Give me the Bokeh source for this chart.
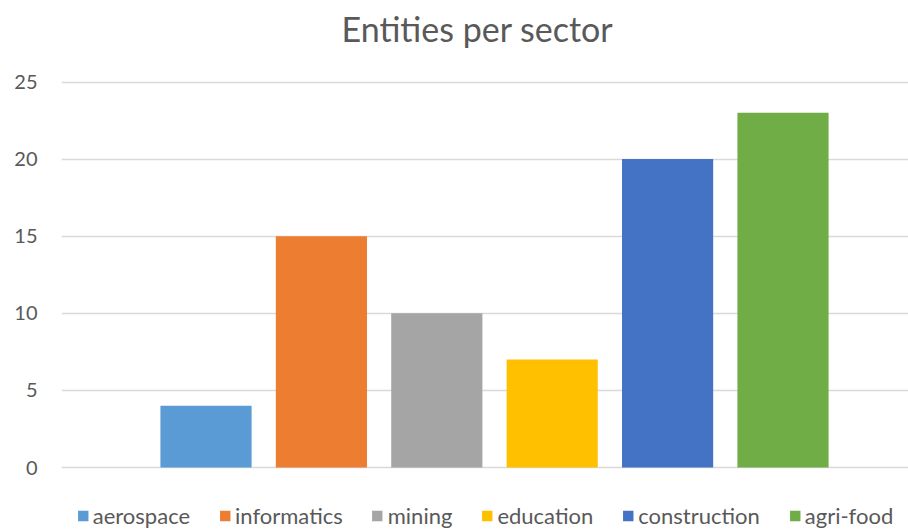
from bokeh.plotting import figure
from bokeh.models import ColumnDataSource, Range1d, Legend, LegendItem, FixedTicker
from bokeh.embed import file_html
from bokeh.resources import INLINE

# ---- data ----
sectors = ["aerospace", "informatics", "mining", "education", "construction", "agri-food"]
entities = [4, 15, 10, 7, 20, 23]
colors = ["#5B9BD5", "#ED7D31", "#A5A5A5", "#FFC000", "#4472C4", "#70AD47"]
y_ticks = [0, 5, 10, 15, 20, 25]
title_text = "Entities per sector"

FONT = "Lato"
TEXT_COLOR = "#595959"

W, H = 908, 529
LEFT = 61                 # frame left (px)
TITLE_PANEL = 53          # measured height of the title panel (px)
PX_PER_UNIT = 15.42       # vertical scale
TOP_TICK_Y = 81.5         # px of the top gridline
y_end = y_ticks[-1] + (TOP_TICK_Y - TITLE_PANEL) / PX_PER_UNIT
y_start = y_end - (H - TITLE_PANEL) / PX_PER_UNIT

CAT_PX = 115.4            # px per category
FIRST_CENTER = 205.5      # px of first bar centre
x_start = (LEFT - FIRST_CENTER) / CAT_PX
x_end = (W - FIRST_CENTER) / CAT_PX

positions = list(range(len(sectors)))
src = ColumnDataSource(dict(x=positions, top=entities, sector=sectors, color=colors))

p = figure(width=W, height=H, output_backend="svg", toolbar_location=None,
           x_range=Range1d(x_start, x_end), y_range=Range1d(y_start, y_end),
           min_border_left=LEFT, min_border_right=0, min_border_top=0, min_border_bottom=0)

p.title.text = title_text
p.title.text_font = FONT
p.title.text_font_size = "34px"
p.title.text_font_style = "normal"
p.title.text_color = TEXT_COLOR
p.title.align = "left"
p.title.offset = 280

p.outline_line_color = None
p.background_fill_color = "white"
p.border_fill_color = "white"

r = p.vbar(x="x", top="top", bottom=0, width=0.79, source=src,
           fill_color="color", line_color=None)

p.xaxis.visible = False
p.xgrid.grid_line_color = None

p.yaxis.ticker = FixedTicker(ticks=y_ticks)
p.ygrid.ticker = FixedTicker(ticks=y_ticks)
p.ygrid.grid_line_color = "#D9D9D9"
p.ygrid.grid_line_width = 1.5
p.yaxis.axis_line_color = None
p.yaxis.major_tick_line_color = None
p.yaxis.minor_tick_line_color = None
p.yaxis.major_tick_in = 0
p.yaxis.major_tick_out = 0
p.yaxis.major_label_standoff = 24
p.yaxis.major_label_text_font = FONT
p.yaxis.major_label_text_font_size = "20px"
p.yaxis.major_label_text_color = TEXT_COLOR

items = [LegendItem(label=s, renderers=[r], index=i) for i, s in enumerate(sectors)]
legend = Legend(items=items, orientation="horizontal", location="bottom_center",
                glyph_width=13, glyph_height=13, label_standoff=4, spacing=28,
                label_text_font=FONT, label_text_font_size="22px",
                label_text_color=TEXT_COLOR, border_line_color=None,
                background_fill_alpha=0, padding=0, margin=0)
p.add_layout(legend)

open("out.html", "w").write(file_html(p, INLINE))
